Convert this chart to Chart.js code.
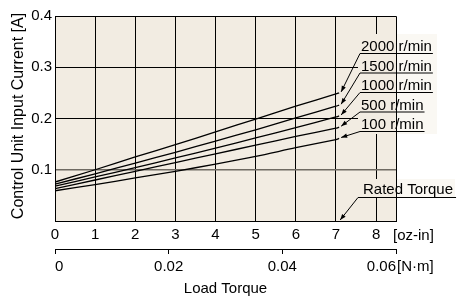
<!DOCTYPE html>
<html>
<head>
<meta charset="utf-8">
<script src="https://cdn.jsdelivr.net/npm/chart.js@4"></script>
<style>
  html, body { margin: 0; padding: 0; background: #fff; }
  #wrap { width: 466px; height: 297px; }
</style>
</head>
<body>
<div id="wrap"><canvas id="chart" width="466" height="297"></canvas></div>
<script>
// load torque in oz-in, the last point is the rated torque (0.05 N·m)
const torqueOzIn = [0, 1, 2, 3, 4, 5, 6, 7, 7.08];
const current2000 = [0.076, 0.100, 0.125, 0.149, 0.174, 0.199, 0.224, 0.248, 0.250];
const current1500 = [0.072, 0.092, 0.113, 0.134, 0.156, 0.178, 0.201, 0.224, 0.226];
const current1000 = [0.068, 0.086, 0.104, 0.123, 0.142, 0.162, 0.182, 0.203, 0.205];
const current500  = [0.063, 0.080, 0.097, 0.114, 0.131, 0.148, 0.165, 0.181, 0.183];
const current100  = [0.059, 0.071, 0.084, 0.097, 0.111, 0.126, 0.143, 0.159, 0.161];
const speedLabels = ['2000 r/min', '1500 r/min', '1000 r/min', '500 r/min', '100 r/min'];
const yTicks = [0, 0.1, 0.2, 0.3, 0.4];
const ozTicks = [0, 1, 2, 3, 4, 5, 6, 7, 8];
const nmTicks = [0, 0.02, 0.04, 0.06];
const ratedTorqueNm = 0.05;
const OZIN_PER_NM = 141.612;

const FONT = '"Liberation Sans", Arial, sans-serif';
const BG = '#f2ece2';

const series = [current2000, current1500, current1000, current500, current100];

function arrow(ctx, x1, y1, x2, y2) {
  ctx.beginPath();
  ctx.moveTo(x1, y1);
  ctx.lineTo(x2, y2);
  ctx.stroke();
  const a = Math.atan2(y2 - y1, x2 - x1);
  const len = 6, w = 2.2;
  ctx.beginPath();
  ctx.moveTo(x2, y2);
  ctx.lineTo(x2 - len * Math.cos(a) + w * Math.sin(a), y2 - len * Math.sin(a) - w * Math.cos(a));
  ctx.lineTo(x2 - len * Math.cos(a) - w * Math.sin(a), y2 - len * Math.sin(a) + w * Math.cos(a));
  ctx.closePath();
  ctx.fill();
}

const decor = {
  id: 'decor',
  beforeDraw(chart) {
    const { ctx, chartArea: a } = chart;
    ctx.save();
    ctx.fillStyle = BG;
    ctx.fillRect(a.left, a.top, a.right - a.left, a.bottom - a.top);
    ctx.restore();
  },
  afterDraw(chart) {
    const { ctx, chartArea: a, scales } = chart;
    const x = scales.x, y = scales.y;
    ctx.save();
    ctx.strokeStyle = '#000';
    ctx.fillStyle = '#000';
    ctx.lineWidth = 1;
    // top and right border
    ctx.beginPath();
    ctx.moveTo(a.left, a.top + 0.5);
    ctx.lineTo(a.right + 0.5, a.top + 0.5);
    ctx.lineTo(a.right + 0.5, a.bottom);
    ctx.stroke();

    // speed label box
    const lx = a.right - 36;
    ctx.fillStyle = BG;
    ctx.fillRect(lx - 2, a.top + 18, a.right - lx + 2, 100);
    ctx.fillStyle = '#faf8f3';
    ctx.fillRect(a.right + 1, a.top + 18, 40, 100);
    // rated torque box
    ctx.fillStyle = BG;
    ctx.fillRect(lx - 2, a.bottom - 42, a.right - lx + 2, 18);
    ctx.fillStyle = '#faf8f3';
    ctx.fillRect(a.right + 1, a.bottom - 42, 58, 18);

    ctx.fillStyle = '#000';
    ctx.font = '15px ' + FONT;
    ctx.textAlign = 'left';
    ctx.textBaseline = 'alphabetic';
    const last = torqueOzIn.length - 1;
    speedLabels.forEach((lab, i) => {
      const uy = a.top + 37 + 19.5 * i;
      const w = ctx.measureText(lab).width;
      ctx.fillText(lab, lx + 1, uy - 2);
      ctx.beginPath();
      ctx.moveTo(lx, uy + 0.5);
      ctx.lineTo(lx + w + 2, uy + 0.5);
      ctx.stroke();
      const tx = x.getPixelForValue(torqueOzIn[last]) + 2;
      const ty = y.getPixelForValue(series[i][last]) - 1;
      arrow(ctx, lx, uy + 0.5, tx, ty);
    });

    // rated torque
    const ry = a.bottom - 24;
    const rw = ctx.measureText('Rated Torque').width;
    ctx.fillText('Rated Torque', lx + 3, ry - 3);
    ctx.beginPath();
    ctx.moveTo(lx - 2, ry + 0.5);
    ctx.lineTo(lx + rw + 6, ry + 0.5);
    ctx.stroke();
    arrow(ctx, lx - 2, ry + 0.5, x.getPixelForValue(ratedTorqueNm * OZIN_PER_NM) + 1, a.bottom - 1);

    // unit labels
    ctx.textBaseline = 'middle';
    ctx.fillText('[oz-in]', a.right - 3, a.bottom + 15);
    ctx.fillText('[N\u00b7m]', a.right + 1, a.bottom + 46);
    ctx.textAlign = 'center';
    ctx.fillText('Load Torque', (a.left + a.right) / 2, 289);

    // y title
    ctx.translate(19, 116);
    ctx.rotate(-Math.PI / 2);
    ctx.font = '16px ' + FONT;
    ctx.fillText('Control Unit Input Current [A]', 0, 0);
    ctx.restore();
  }
};

const datasets = series.map((s, i) => ({
  label: speedLabels[i],
  data: torqueOzIn.map((t, k) => ({ x: t, y: s[k] })),
  borderColor: '#000',
  borderWidth: 1.3,
  pointRadius: 0,
  tension: 0.3,
  fill: false
}));

new Chart(document.getElementById('chart'), {
  type: 'line',
  data: { datasets },
  plugins: [decor],
  options: {
    responsive: false,
    animation: false,
    events: [],
    layout: { padding: { top: 16, right: 70, left: 0, bottom: 0 } },
    plugins: { legend: { display: false }, tooltip: { enabled: false } },
    scales: {
      x: {
        type: 'linear',
        position: 'bottom',
        min: 0,
        max: 0.06 * OZIN_PER_NM,
        afterBuildTicks: s => { s.ticks = ozTicks.map(v => ({ value: v })); },
        afterFit: s => { s.height = 28; },
        ticks: { color: '#000', font: { family: FONT, size: 15 }, padding: 5, maxRotation: 0 },
        grid: { color: '#000', lineWidth: 1, drawTicks: false },
        border: { color: '#000', width: 1 }
      },
      x2: {
        type: 'linear',
        position: 'bottom',
        min: 0,
        max: 0.06,
        afterBuildTicks: s => { s.ticks = nmTicks.map(v => ({ value: v })); },
        afterFit: s => { s.height = 48; },
        ticks: {
          color: '#000', font: { family: FONT, size: 15 }, padding: 4, maxRotation: 0,
          align: 'inner',
          callback: v => v === 0 ? '0' : v.toFixed(2)
        },
        grid: { drawOnChartArea: false, color: '#000', tickLength: 5, lineWidth: 1 },
        border: { color: '#000', width: 1 }
      },
      y: {
        type: 'linear',
        min: 0,
        max: 0.4,
        afterBuildTicks: s => { s.ticks = yTicks.map(v => ({ value: v })); },
        afterFit: s => { s.width = 55; },
        ticks: {
          color: '#000', font: { family: FONT, size: 15 }, padding: 3,
          callback: v => v === 0 ? '' : v.toFixed(1)
        },
        grid: {
          drawTicks: false,
          color: c => (Math.abs(c.tick.value - 0.1) < 1e-6 ? '#6f6a62' : '#000'),
          lineWidth: c => (Math.abs(c.tick.value - 0.1) < 1e-6 ? 1.5 : 1)
        },
        border: { color: '#000', width: 1 }
      }
    }
  }
});
</script>
</body>
</html>
